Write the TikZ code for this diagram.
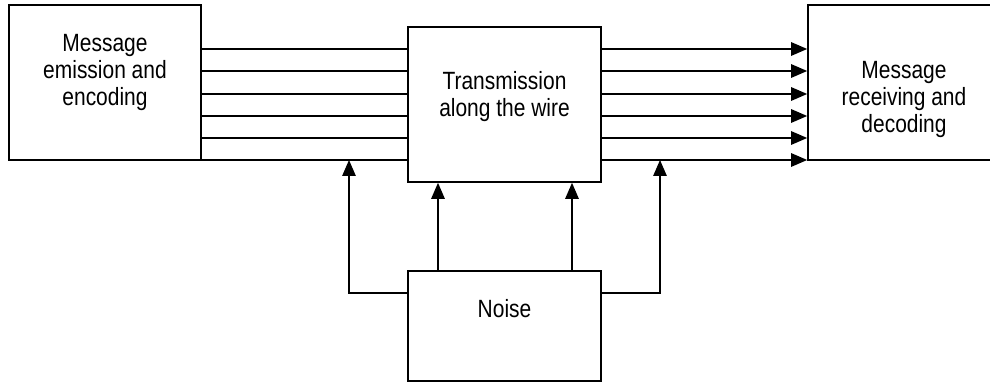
\documentclass[tikz,border=0pt]{standalone}
\usepackage{fontspec}
\setmainfont{Liberation Sans}[FakeStretch=0.84]
\usetikzlibrary{arrows.meta,positioning}

\begin{document}
\begin{tikzpicture}[x=0.2mm, y=-0.2mm, >={Triangle[length=3.2mm,width=2.7mm]},
  box/.style={draw, line width=0.95pt, inner sep=0pt},
  txt/.style={align=center, inner sep=0pt, font=\fontsize{14.2}{15.4}\selectfont},
  wire/.style={line width=0.75pt}]
  \useasboundingbox (0,0) rectangle (990,382);
  \clip (0,0) rectangle (990,382);

  % Kästen
  \node[box, minimum width=38.4mm, minimum height=31mm] (sender) at (105,82.5) {};
  \node[box, minimum width=38.6mm, minimum height=31mm] (channel) at (504.5,104.5) {};
  \node[box, minimum width=38.4mm, minimum height=31mm] (receiver) at (904,82.5) {};
  \node[box, minimum width=38.6mm, minimum height=22mm] (noise) at (504.5,326) {};

  % Beschriftung
  \node[txt, below=6mm of sender.north] (sendertxt) {Message\\emission and\\encoding};
  \node[txt, below=9mm of channel.north] (channeltxt) {Transmission\\along the wire};
  \node[txt, below=11.4mm of receiver.north] (receivertxt) {Message\\receiving and\\decoding};
  \node[txt, below=5.8mm of noise.north] (noisetxt) {Noise};

  % Leitungen
  \foreach \y in {49,71,94,116,138,160} {
    \draw[wire] (sender.east |- 0,\y) -- (channel.west |- 0,\y);
    \draw[wire,->] (channel.east |- 0,\y) -- (receiver.west |- 0,\y);
  }

  % Störungen
  \coordinate (tapL) at (349,160);
  \coordinate (tapR) at (660,160);
  \draw[wire,->] (noise.west |- 0,293) -| (tapL);
  \draw[wire,->] (noise.east |- 0,293) -| (tapR);
  \draw[wire,->] (noise.north -| 438,0) -- (channel.south -| 438,0);
  \draw[wire,->] (noise.north -| 572,0) -- (channel.south -| 572,0);
\end{tikzpicture}
\end{document}
